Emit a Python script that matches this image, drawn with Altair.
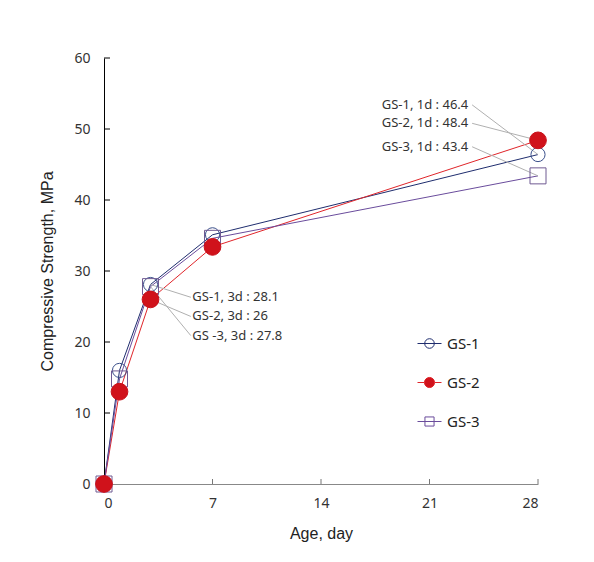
import altair as alt
import pandas as pd

series_names = ["GS-1", "GS-2", "GS-3"]
days = [0, 1, 3, 7, 28]
gs1 = [0, 16.0, 28.1, 35.1, 46.4]
gs2 = [0, 13.0, 26.0, 33.4, 48.4]
gs3 = [0, 14.8, 27.8, 34.6, 43.4]

x_ticks = [0, 7, 14, 21, 28]
y_ticks = [0, 10, 20, 30, 40, 50, 60]

annot_text = ["GS-1, 3d : 28.1", "GS-2, 3d : 26", "GS -3, 3d : 27.8",
              "GS-1, 1d : 46.4", "GS-2, 1d : 48.4", "GS-3, 1d : 43.4"]
annot_series = ["GS-1", "GS-2", "GS-3", "GS-1", "GS-2", "GS-3"]
annot_day = [3, 3, 3, 28, 28, 28]
annot_value = [28.1, 26.0, 27.8, 46.4, 48.4, 43.4]
annot_label_day = [5.7, 5.7, 5.7, 23.5, 23.5, 23.5]
annot_label_val = [26.3, 23.6, 20.9, 53.4, 50.8, 47.5]
annot_side = ["left", "left", "left", "right", "right", "right"]

line_colors = ["#1f2d6e", "#e0252a", "#6a4c9c"]
marker_stroke = ["#3a4f8a", "#c8101a", "#6f5a92"]
legend_fill = ["transparent", "#d0121b", "transparent"]
legend_paths = [
    "M-1,0L1,0M-0.4,0A0.4,0.4,0,1,1,0.4,0A0.4,0.4,0,1,1,-0.4,0Z",
    "M-1,0L-0.42,0M0.42,0L1,0M-0.42,0A0.42,0.42,0,1,1,0.42,0A0.42,0.42,0,1,1,-0.42,0Z",
    "M-1,0L1,0M-0.38,-0.38L0.38,-0.38L0.38,0.38L-0.38,0.38Z",
]

rows = []
for name, vals in zip(series_names, [gs1, gs2, gs3]):
    for d, v in zip(days, vals):
        rows.append({"Series": name, "Day": d, "Strength": v})
df = pd.DataFrame(rows)

ann = pd.DataFrame({
    "text": annot_text, "Series": annot_series, "Day": annot_day,
    "Strength": annot_value, "lx": annot_label_day, "ly": annot_label_val,
    "side": annot_side,
})
ann["lx_line"] = [x - 0.1 if s == "left" else x + 0.25 for x, s in zip(ann["lx"], ann["side"])]

xt = pd.DataFrame({"Day": x_ticks[1:]})
yt = pd.DataFrame({"Strength": y_ticks})

xs = alt.Scale(domain=[0, 28], nice=False, zero=False)
ys = alt.Scale(domain=[0, 60], nice=False)

X = alt.X("Day:Q", scale=xs)
Y = alt.Y("Strength:Q", scale=ys)

label_font = "Noto Sans"
title_font = "Liberation Sans"

color_scale = alt.Scale(domain=series_names, range=line_colors)

lines = alt.Chart(df).mark_line(strokeWidth=1, clip=False).encode(
    x=alt.X("Day:Q", scale=xs, title="Age, day", axis=alt.Axis(
        values=x_ticks, ticks=False, grid=False,
        domainColor="#888888", domainWidth=1, labelFont=label_font, labelFontSize=14,
        labelColor="#333333", labelPadding=12, titleFont=title_font, titleFontSize=16,
        titleFontWeight="normal", titleColor="#222222", titlePadding=15)),
    y=alt.Y("Strength:Q", scale=ys, title="Compressive Strength, MPa", axis=alt.Axis(
        values=y_ticks, ticks=False,
        grid=False, domainColor="#000000", domainWidth=1, labelFont=label_font,
        labelFontSize=14, labelColor="#333333", labelPadding=14, titleFont=title_font,
        titleFontSize=16, titleFontWeight="normal", titleColor="#222222", titlePadding=18)),
    color=alt.Color("Series:N", scale=color_scale),
    order=alt.Order("Day:Q"),
)

# inward tick marks
xtick_rules = alt.Chart(xt).mark_rule(color="#777777", strokeWidth=1).encode(
    x=X, y=alt.value(426), y2=alt.value(421))
ytick_rules = alt.Chart(yt).mark_rule(color="#000000", strokeWidth=1).encode(
    y=Y, x=alt.value(0), x2=alt.value(6))

leaders = alt.Chart(ann).mark_rule(color="#b0b0b0", strokeWidth=1).encode(
    x=X, y=Y, x2="lx_line:Q", y2="ly:Q",
)

text_left = alt.Chart(ann).transform_filter(alt.datum.side == "left").mark_text(
    align="left", baseline="middle", font=label_font, fontSize=13, color="#333333"
).encode(x=alt.X("lx:Q", scale=xs), y=alt.Y("ly:Q", scale=ys), text="text:N")

text_right = alt.Chart(ann).transform_filter(alt.datum.side == "right").mark_text(
    align="right", baseline="middle", font=label_font, fontSize=13, color="#333333"
).encode(x=alt.X("lx:Q", scale=xs), y=alt.Y("ly:Q", scale=ys), text="text:N")


def pts(name, shape, size, stroke, fill, filled):
    return alt.Chart(df).transform_filter(alt.datum.Series == name).mark_point(
        shape=shape, size=size, stroke=stroke, fill=fill, filled=filled,
        strokeWidth=1, opacity=1, fillOpacity=1, clip=False
    ).encode(x=X, y=Y)


p1 = pts("GS-1", "circle", 200, marker_stroke[0], "transparent", False)
p3 = pts("GS-3", "square", 256, marker_stroke[2], "transparent", False)
p2 = pts("GS-2", "circle", 280, marker_stroke[1], "#d0121b", True)

legend_layer = alt.Chart(df).transform_filter("false").mark_point(
    strokeWidth=1, opacity=1, fillOpacity=1
).encode(
    x=X, y=Y,
    shape=alt.Shape("Series:N", scale=alt.Scale(domain=series_names, range=legend_paths),
                    legend=alt.Legend(title=None, orient="none", legendX=313, legendY=273,
                                      symbolSize=576, symbolStrokeWidth=1, symbolOpacity=1,
                                      rowPadding=18, labelOffset=5, labelFont=label_font,
                                      labelFontSize=15, labelColor="#222222")),
    color=alt.Color("Series:N", scale=color_scale),
    fill=alt.Fill("Series:N", scale=alt.Scale(domain=series_names, range=legend_fill)),
)

chart = alt.layer(
    lines, xtick_rules, ytick_rules, leaders, text_left, text_right, legend_layer, p1, p3, p2
).properties(
    width=434, height=426,
    autosize=alt.AutoSizeParams(type="none"),
    padding={"left": 96, "top": 50, "right": 48, "bottom": 70},
    background="white",
).configure_view(stroke=None)

chart.save("out.html", embed_options={"renderer": "svg", "actions": False})
